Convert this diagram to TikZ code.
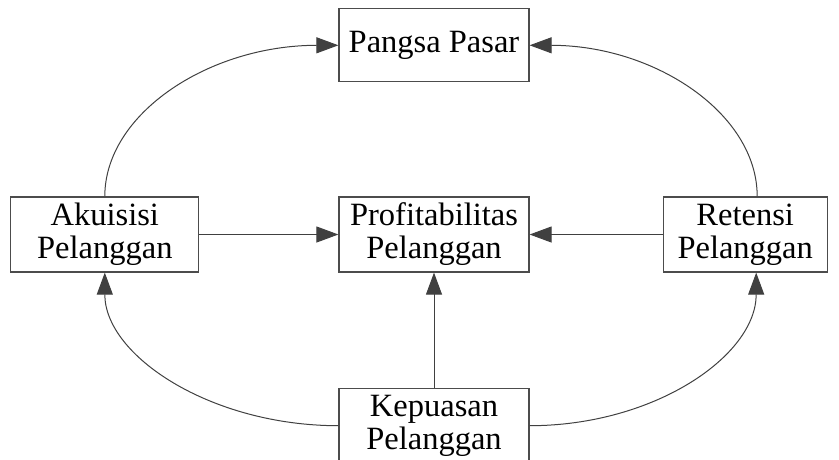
\documentclass[tikz,border=0pt]{standalone}
\usepackage{fontspec}
\setmainfont{Liberation Serif}
\usetikzlibrary{arrows.meta,positioning}

\begin{document}
\begin{tikzpicture}[x=1pt,y=-1pt]
	\newcommand\jarakv{114pt}
	\newcommand\jarakkiri{139pt}
	\newcommand\jarakkanan{133pt}
	\newcommand\tarik{83}
	\tikzset{
		kotak/.style={draw=black!70, line width=1.2pt, fill=white,
			minimum width=190pt, minimum height=75pt, inner sep=2pt,
			align=center, font=\fontsize{32.5}{33}\selectfont},
		panah/.style={draw=black!75, line width=1pt,
			-{Triangle[length=22pt, width=16pt]}},
	}
	\useasboundingbox (0,0) rectangle (839,459);
	% boxes
	\node[kotak] (prof) at (434,234.5) {Profitabilitas\\Pelanggan};
	\node[kotak, minimum height=73pt, above=\jarakv of prof] (pasar) {Pangsa Pasar};
	\node[kotak, below=\jarakv+1pt of prof] (puas) {Kepuasan\\Pelanggan};
	\node[kotak, minimum width=188pt, left=\jarakkiri of prof] (akuisisi) {Akuisisi\\Pelanggan};
	\node[kotak, minimum width=164pt, right=\jarakkanan of prof] (retensi) {Retensi\\Pelanggan};
	% straight arrows
	\draw[panah] (akuisisi) -- (prof);
	\draw[panah] (retensi) -- (prof);
	\draw[panah] (puas) -- (prof);
	% curved arrows
	\draw[panah] (akuisisi.north) .. controls +(0,-\tarik) and +(-129,0) .. (pasar.west);
	\draw[panah] ([xshift=12pt]retensi.north) .. controls +(0,-\tarik) and +(125,0) .. (pasar.east);
	\draw[panah] (puas.west) .. controls +(-128,0) and +(0,\tarik) .. (akuisisi.south);
	\draw[panah] (puas.east) .. controls +(125,0) and +(0,\tarik) .. ([xshift=11pt]retensi.south);
\end{tikzpicture}
\end{document}
